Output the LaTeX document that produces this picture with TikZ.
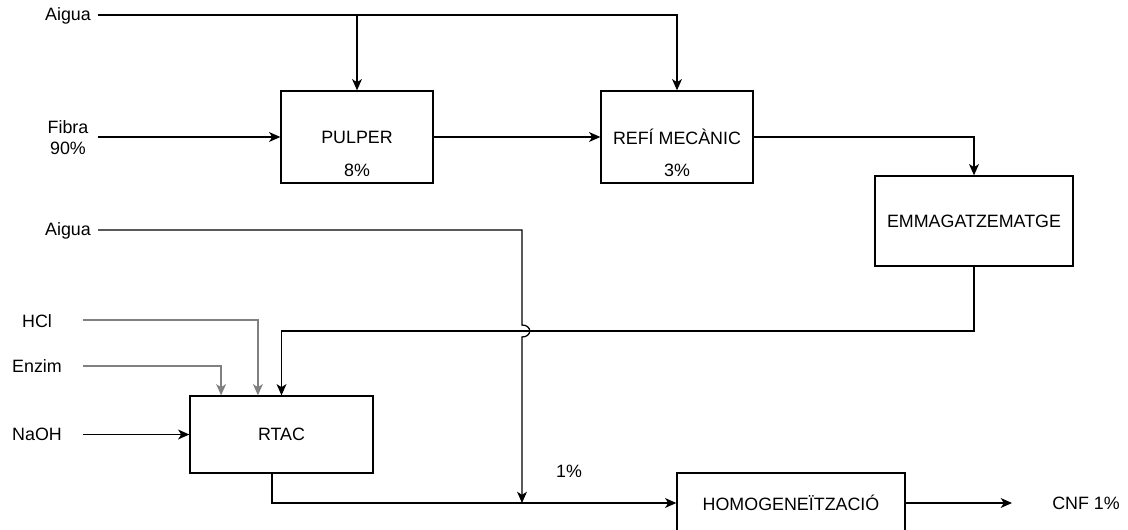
\documentclass[tikz,border=0pt]{standalone}
\usepackage{fontspec}
\setmainfont{Liberation Sans}
\usetikzlibrary{arrows.meta,positioning}

\begin{document}
\begin{tikzpicture}[x=0.025cm,y=-0.025cm,
	font=\fontsize{12.7}{15}\selectfont,
	>={Stealth[length=8pt,width=7pt,inset=2.2pt]},
	box/.style={draw,line width=0.9pt,inner sep=0pt},
	flow/.style={line width=0.9pt},
	feed/.style={line width=0.9pt,draw=black!50}]
\useasboundingbox (0,0) rectangle (1128,530);
	% blocks
	\node[box,minimum width=3.8cm,minimum height=2.3cm] (pulper) at (357,137) {PULPER};
	\node (pulperpct) at (357,170) {8\%};
	\node[box,minimum width=3.8cm,minimum height=2.3cm] (refi) at (677,137) {REFÍ MECÀNIC};
	\node (refipct) at (677,170) {3\%};
	\node[box,minimum width=4.95cm,minimum height=2.25cm] (emmag) at (974,221) {EMMAGATZEMATGE};
	\node[box,minimum width=4.575cm,minimum height=1.925cm] (rtac) at (281.5,434.5) {RTAC};
	\node[box,minimum width=5.7cm,minimum height=1.5cm] (homog) at (791,503) {HOMOGENEÏTZACIÓ};
	% inputs and outputs
	\node (aigua1) at (68,16) {Aigua};
	\node[align=center] (fibra) at (68,138) {Fibra\\90\%};
	\node (aigua2) at (68,231) {Aigua};
	\node (hcl) at (37,321) {HCl};
	\node (enzim) at (37,366) {Enzim};
	\node (naoh) at (37,434) {NaOH};
	\node (pct) at (569,471) {1\%};
	\node (cnf) at (1086,503) {CNF 1\%};
	\coordinate (w1) at (98,15);
	\coordinate (f1) at (98,137);
	\coordinate (w2) at (98,230);
	\coordinate (h1) at (83,320);
	\coordinate (e1) at (83,366);
	\coordinate (n1) at (83,434.5);
	\coordinate (ret) at (281.5,331);
	\coordinate (jin) at (522,325);
	\coordinate (jout) at (522,337);
	\coordinate (mix) at (522,503);
	\coordinate (out) at (1012,503);
	% connectors
	\draw[flow,->] (w1) -| (refi);
	\draw[flow,->] (w1 -| pulper) -- (pulper);
	\draw[flow,->] (f1) -- (pulper);
	\draw[flow,->] (pulper) -- (refi);
	\draw[flow,->] (refi) -| (emmag);
	\draw[flow,->] (emmag) |- (ret) -- (rtac);
	\draw[feed,->] (h1) -| ([xshift=-0.59cm]rtac.north);
	\draw[feed,->] (e1) -| ([xshift=-1.51cm]rtac.north);
	\draw[flow,->] (n1) -- (rtac);
	\draw[flow,->] (w2) -| (jin) to[out=0,in=0,looseness=2.2] (jout) -- (mix);
	\draw[flow,->] ([xshift=-0.24cm]rtac.south) |- (homog);
	\draw[flow,->] (homog) -- (out);
\end{tikzpicture}
\end{document}
